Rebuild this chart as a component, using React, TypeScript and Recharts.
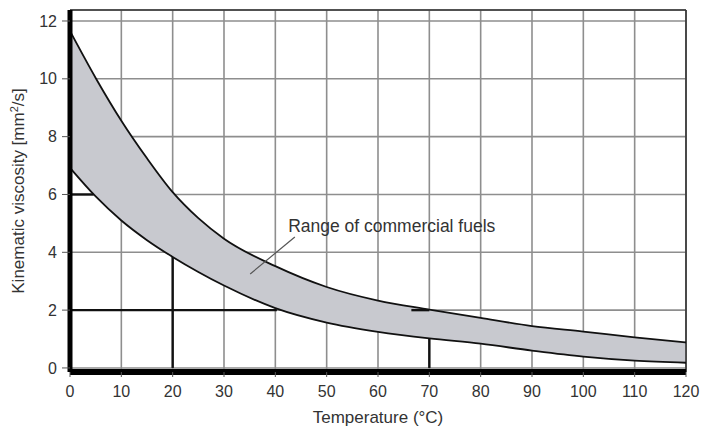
import {
  Area,
  CartesianGrid,
  ComposedChart,
  Label,
  Line,
  ReferenceDot,
  ReferenceLine,
  XAxis,
  YAxis,
} from "recharts";

// Viscosity band of commercial fuels against temperature
const temperatures = [0, 5, 10, 15, 20, 25, 30, 40, 50, 60, 70, 80, 90, 100, 110, 120];
const upperViscosity = [11.65, 10.03, 8.55, 7.25, 6.08, 5.18, 4.47, 3.52, 2.8, 2.33, 2.02, 1.73, 1.45, 1.26, 1.06, 0.88];
const lowerViscosity = [6.92, 5.93, 5.1, 4.42, 3.84, 3.32, 2.85, 2.07, 1.57, 1.25, 1.02, 0.84, 0.6, 0.39, 0.25, 0.18];

const xTicks = [0, 10, 20, 30, 40, 50, 60, 70, 80, 90, 100, 110, 120];
const yTicks = [0, 2, 4, 6, 8, 10, 12];
const yDomain: [number, number] = [-0.14, 12.38];

// dark reading lines from the axes up to the band
const guideSegments = [
  [{ x: 0, y: 2 }, { x: 40.3, y: 2 }],
  [{ x: 66.5, y: 2 }, { x: 70, y: 2 }],
  [{ x: 20, y: 0 }, { x: 20, y: 3.84 }],
  [{ x: 70, y: 0 }, { x: 70, y: 1.02 }],
  [{ x: 0, y: 6 }, { x: 4.6, y: 6 }],
];

const calloutText = "Range of commercial fuels";
const calloutAnchor = { x: 42.5, y: 4.71 };
const calloutLeader = [{ x: 35.1, y: 3.25 }, { x: 43.8, y: 4.53 }];

const data = temperatures.map((t, i) => ({
  t,
  low: lowerViscosity[i],
  high: upperViscosity[i],
  band: [lowerViscosity[i], upperViscosity[i]],
}));

const FONT = "'Liberation Sans', Arial, sans-serif";
const TEXT = "#333";

function YTitle({ viewBox }: any) {
  const x = viewBox.x + 24;
  const y = viewBox.y + viewBox.height / 2;
  return (
    <text
      transform={`translate(${x},${y}) rotate(-90)`}
      textAnchor="middle"
      fontFamily={FONT}
      fontSize={17}
      fill={TEXT}
    >
      Kinematic viscosity [mm<tspan fontSize={11} dy={-6}>2</tspan>
      <tspan dy={6}>/s]</tspan>
    </text>
  );
}

function XTitle({ viewBox }: any) {
  return (
    <text
      x={viewBox.x + viewBox.width / 2}
      y={423}
      textAnchor="middle"
      fontFamily={FONT}
      fontSize={17}
      fill={TEXT}
    >
      Temperature (°C)
    </text>
  );
}

export default function App() {
  return (
    <div style={{ position: "absolute", left: 0, top: 0, width: 701, height: 428, background: "#fff" }}>
      <ComposedChart
        width={701}
        height={428}
        data={data}
        margin={{ top: 10, right: 15, bottom: 0, left: 0 }}
        accessibilityLayer={false}
      >
        <CartesianGrid stroke="#8e8e8e" strokeWidth={1.6} />
        <XAxis
          type="number"
          dataKey="t"
          domain={[0, 120]}
          ticks={xTicks}
          height={56}
          axisLine={{ stroke: "#000", strokeWidth: 6 }}
          tickLine={{ stroke: "#555", strokeWidth: 1 }}
          tickSize={5}
          tickMargin={9}
          tick={{ fontFamily: FONT, fontSize: 16, fill: TEXT }}
          interval={0}
        >
          <Label content={<XTitle />} />
        </XAxis>
        <YAxis
          type="number"
          domain={yDomain}
          ticks={yTicks}
          width={70}
          allowDataOverflow
          axisLine={{ stroke: "#000", strokeWidth: 5 }}
          tickLine={{ stroke: "#555", strokeWidth: 1 }}
          tickSize={8}
          tickMargin={5}
          tick={{ fontFamily: FONT, fontSize: 16, fill: TEXT }}
          interval={0}
        >
          <Label content={<YTitle />} />
        </YAxis>

        <ReferenceLine y={yDomain[1]} stroke="#333" strokeWidth={1.6} />
        <ReferenceLine x={120} stroke="#333" strokeWidth={1.6} />

        {guideSegments.map((seg, i) => (
          <ReferenceLine key={i} segment={seg} stroke="#111" strokeWidth={2.4} />
        ))}

        <Area
          type="monotone"
          dataKey="band"
          stroke="none"
          fill="#c8c9cf"
          fillOpacity={1}
          isAnimationActive={false}
        />
        <Line
          type="monotone"
          dataKey="high"
          stroke="#111"
          strokeWidth={1.8}
          dot={false}
          isAnimationActive={false}
        />
        <Line
          type="monotone"
          dataKey="low"
          stroke="#111"
          strokeWidth={1.8}
          dot={false}
          isAnimationActive={false}
        />

        <ReferenceLine segment={calloutLeader} stroke="#555" strokeWidth={1.2} />
        <ReferenceDot
          x={calloutAnchor.x}
          y={calloutAnchor.y}
          r={0}
          shape={(p: any) => (
            <text x={p.cx} y={p.cy} fontFamily={FONT} fontSize={17.5} fill={TEXT}>
              {calloutText}
            </text>
          )}
        />
      </ComposedChart>
    </div>
  );
}
